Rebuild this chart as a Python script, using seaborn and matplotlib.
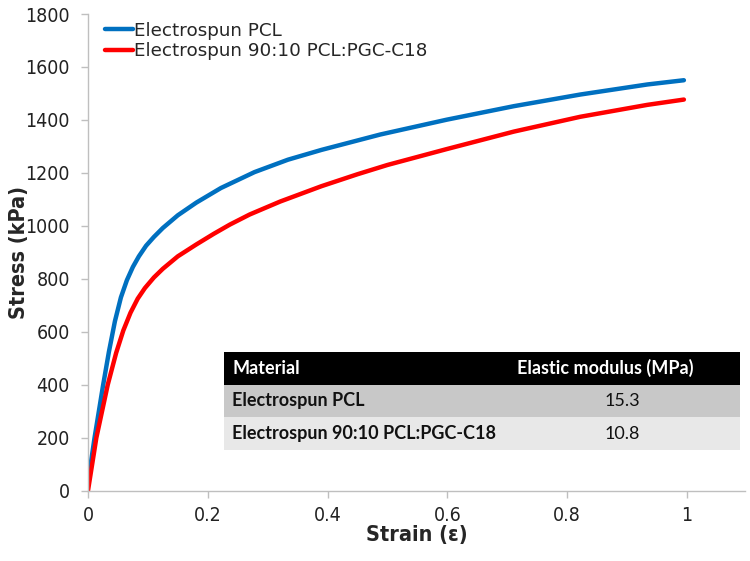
import pandas as pd
import matplotlib
matplotlib.use("Agg")
import matplotlib.pyplot as plt
import seaborn as sns

# stress-strain curves
pcl_strain = [0, 0.011, 0.025, 0.035, 0.045, 0.055, 0.065, 0.075, 0.085, 0.097, 0.11, 0.125,
              0.15, 0.181, 0.222, 0.278, 0.334, 0.39, 0.488, 0.599, 0.711, 0.822, 0.934, 0.995]
pcl_stress = [30, 200, 395, 525, 640, 730, 795, 845, 885, 925, 958, 992,
              1040, 1088, 1143, 1203, 1250, 1287, 1345, 1401, 1452, 1496, 1534, 1550]

blend_strain = [0, 0.014, 0.033, 0.047, 0.059, 0.071, 0.083, 0.095, 0.11, 0.125, 0.15, 0.181,
                0.21, 0.237, 0.27, 0.321, 0.39, 0.45, 0.5, 0.599, 0.711, 0.822, 0.934, 0.995]
blend_stress = [0, 200, 400, 520, 605, 672, 725, 765, 805, 838, 885, 930,
                970, 1005, 1043, 1092, 1150, 1195, 1230, 1290, 1356, 1412, 1457, 1477]

labels = ['Electrospun PCL', 'Electrospun 90:10 PCL:PGC-C18']
moduli = ['15.3', '10.8']
table_header = ['Material', 'Elastic modulus (MPa)']

sns.set_style('white')
plt.rcParams['font.family'] = ['DejaVu Sans']

fig = plt.figure(figsize=(7.5, 5.61), dpi=100)
ax = fig.add_axes([0.1173, 0.1253, 0.876, 0.8497])

sns.lineplot(x=pcl_strain, y=pcl_stress, ax=ax, color='#0070C0', linewidth=3.2, label=labels[0])
sns.lineplot(x=blend_strain, y=blend_stress, ax=ax, color='#FF0000', linewidth=3.2, label=labels[1])

ax.set_xlim(0, 1.097)
ax.set_ylim(0, 1800)
ax.set_xticks([0, 0.2, 0.4, 0.6, 0.8, 1])
ax.set_xticklabels(['0', '0.2', '0.4', '0.6', '0.8', '1'])
ax.set_yticks(range(0, 1801, 200))

for s in ['top', 'right']:
    ax.spines[s].set_visible(False)
for s in ['left', 'bottom']:
    ax.spines[s].set_color('#bfbfbf')
    ax.spines[s].set_linewidth(1)
ax.tick_params(axis='both', colors='#bfbfbf', labelcolor='#222222',
               length=5, width=1, direction='out', bottom=True, left=True)
ax.tick_params(axis='x', pad=6)
ax.tick_params(axis='y', pad=8)
for t in ax.get_xticklabels() + ax.get_yticklabels():
    t.set_fontsize(14)
    t.set_fontstretch('condensed')

ax.set_xlabel('Strain (ε)', fontsize=15.5, fontweight='bold', fontstretch='condensed', labelpad=0)
ax.set_ylabel('Stress (kPa)', fontsize=15.5, fontweight='bold', fontstretch='condensed', labelpad=-3)

leg = ax.legend(loc='upper left', bbox_to_anchor=(0.015, 0.999), frameon=False,
                fontsize=13.2, handlelength=1.5, handletextpad=0.1, labelspacing=0.12,
                borderaxespad=0)

# modulus table
tbl = ax.table(cellText=[[labels[0], moduli[0]], [labels[1], moduli[1]]],
               colLabels=table_header, cellLoc='left', colLoc='left',
               colWidths=[0.545, 0.455], bbox=[0.207, 0.0855, 0.785, 0.2058])
tbl.auto_set_font_size(False)
row_colors = ['#000000', '#c8c8c8', '#e8e8e8']
for (r, c), cell in tbl.get_celld().items():
    cell.set_facecolor(row_colors[r])
    cell.set_edgecolor(row_colors[r])
    cell.set_linewidth(0)
    cell.PAD = 0.03 if c == 0 else 0.05
    txt = cell.get_text()
    txt.set_fontfamily('Lato')
    txt.set_fontsize(13)
    if r == 0:
        txt.set_color('white')
        txt.set_fontweight('bold')
    else:
        txt.set_color('#111111')
        if c == 0:
            txt.set_fontweight('bold')
        else:
            cell._loc = 'center'
            txt.set_ha('center')

fig.savefig('out.png', dpi=100)
